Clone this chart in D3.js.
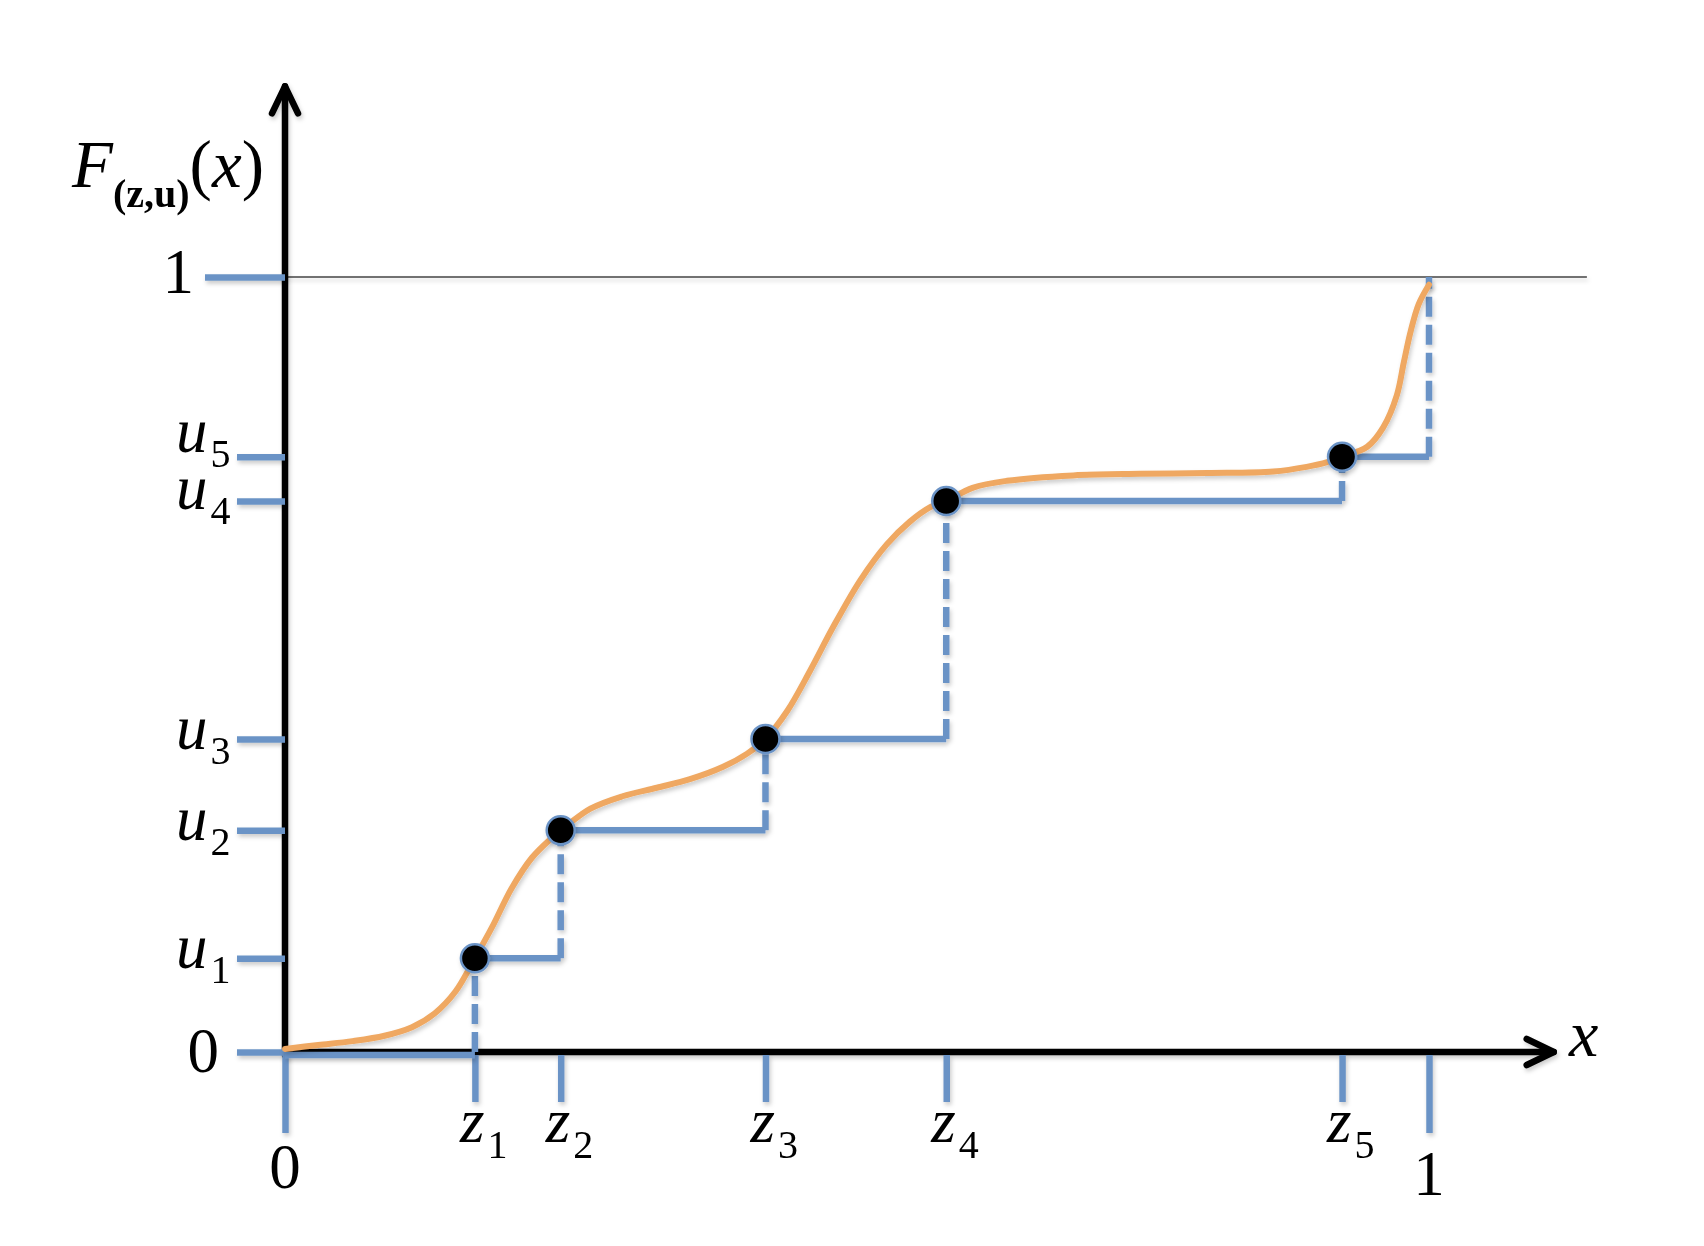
<!DOCTYPE html>
<html>
<head>
<meta charset="utf-8">
<script src="https://cdn.jsdelivr.net/npm/d3@7"></script>
<style>
  html, body { margin: 0; padding: 0; background: #fff; }
  svg { display: block; }
  text { font-family: "Liberation Serif", "Times New Roman", "DejaVu Serif", serif; fill: #000; }
</style>
</head>
<body>
<svg id="chart" width="1704" height="1246"></svg>
<script>
// ---------- data ----------
const zValues = [0.166, 0.241, 0.420, 0.578, 0.924];   // z1..z5 on the x axis
const uValues = [0.121, 0.286, 0.404, 0.711, 0.768];   // u1..u5 on the y axis
const zIndex = ["1", "2", "3", "4", "5"];
const uIndex = ["1", "2", "3", "4", "5"];
const xEndTicks = [0, 1];
const yEndTicks = [0, 1];
// smooth CDF curve F(z,u)(x), sampled along the drawn curve
const curveX = [0, 0.029, 0.059, 0.087, 0.111, 0.131, 0.149, 0.166, 0.181, 0.198, 0.216, 0.233, 0.241,
                0.267, 0.295, 0.325, 0.354, 0.383, 0.404, 0.420, 0.439, 0.459, 0.479, 0.503, 0.526,
                0.546, 0.564, 0.578, 0.601, 0.631, 0.689, 0.747, 0.806, 0.864, 0.893, 0.911, 0.924,
                0.946, 0.960, 0.972, 0.978, 0.984, 0.991, 1.0];
const curveY = [0.004, 0.009, 0.014, 0.021, 0.032, 0.050, 0.078, 0.121, 0.161, 0.211, 0.251, 0.276, 0.286,
                0.314, 0.330, 0.341, 0.352, 0.368, 0.385, 0.404, 0.440, 0.492, 0.548, 0.609, 0.655,
                0.684, 0.703, 0.711, 0.728, 0.737, 0.744, 0.746, 0.747, 0.749, 0.755, 0.761, 0.768,
                0.781, 0.806, 0.848, 0.890, 0.930, 0.965, 0.99];

// ---------- setup ----------
const BLUE = "#6b93c6", ORANGE = "#efa862";
const svg = d3.select("#chart");
const x = d3.scaleLinear().domain([0, 1]).range([285, 1429]);
const y = d3.scaleLinear().domain([0, 1]).range([1052, 277]);

const defs = svg.append("defs");
const f = defs.append("filter").attr("id", "sh").attr("filterUnits", "userSpaceOnUse")
  .attr("x", -2000).attr("y", -2000).attr("width", 6000).attr("height", 6000);
f.append("feDropShadow").attr("dx", 1.5).attr("dy", 3).attr("stdDeviation", 2)
  .attr("flood-color", "#000").attr("flood-opacity", 0.2);

// thin reference line at F = 1
svg.append("line")
  .attr("x1", x(0)).attr("x2", x(1.138)).attr("y1", y(1)).attr("y2", y(1))
  .attr("stroke", "#444").attr("stroke-width", 1.3).attr("filter", "url(#sh)");

// ---------- black axes with open arrowheads ----------
const axes = svg.append("g").attr("filter", "url(#sh)")
  .attr("stroke", "#000").attr("stroke-width", 6.5).attr("fill", "none")
  .attr("stroke-linecap", "round").attr("stroke-linejoin", "round");
axes.append("line").attr("x1", x(0)).attr("x2", x(0)).attr("y1", y(0) + 3).attr("y2", y(1.246));
axes.append("line").attr("x1", x(0)).attr("x2", x(1.109)).attr("y1", y(0)).attr("y2", y(0));
axes.append("path").attr("d", `M${x(0) - 13},${y(1.246) + 27} L${x(0)},${y(1.246)} L${x(0) + 13},${y(1.246) + 27}`);
axes.append("path").attr("d", `M${x(1.109) - 27},${y(0) - 13} L${x(1.109)},${y(0)} L${x(1.109) - 27},${y(0) + 13}`);

// ---------- blue ticks via d3 axes ----------
const yTickVals = [yEndTicks[0], ...uValues, yEndTicks[1]];
const yAxisG = svg.append("g").attr("transform", `translate(${x(0)},0)`).attr("filter", "url(#sh)")
  .call(d3.axisLeft(y).tickValues(yTickVals).tickSize(48).tickFormat(""));
yAxisG.select(".domain").remove();
yAxisG.selectAll(".tick line")
  .attr("stroke", BLUE).attr("stroke-width", 6.5)
  .attr("x2", d => d === 1 ? -80 : -48);

const xTickVals = [xEndTicks[0], ...zValues, xEndTicks[1]];
const xAxisG = svg.append("g").attr("transform", `translate(0,${y(0)})`).attr("filter", "url(#sh)")
  .call(d3.axisBottom(x).tickValues(xTickVals).tickSize(50).tickFormat(""));
xAxisG.select(".domain").remove();
xAxisG.selectAll(".tick line")
  .attr("stroke", BLUE).attr("stroke-width", 6.5)
  .attr("y1", 3)
  .attr("y2", d => (d === 0 || d === 1) ? 81 : 50);

// ---------- step function (solid horizontals, dashed verticals) ----------
const zs = [0, ...zValues, 1];
const us = [0, ...uValues, 1];
const hSegs = d3.range(0, 6).map(i => ({ x1: zs[i], x2: zs[i + 1], yv: us[i] }));
const vSegs = d3.range(1, 7).map(i => ({ xv: zs[i], y1: us[i - 1], y2: us[i] }));

const steps = svg.append("g").attr("filter", "url(#sh)");
steps.selectAll("line.h").data(hSegs).join("line").attr("class", "h")
  .attr("x1", d => x(d.x1)).attr("x2", d => x(d.x2))
  .attr("y1", d => y(d.yv) + (d.yv === 0 ? 3 : 0)).attr("y2", d => y(d.yv) + (d.yv === 0 ? 3 : 0))
  .attr("stroke", BLUE).attr("stroke-width", 6.5);
steps.selectAll("line.v").data(vSegs).join("line").attr("class", "v")
  .attr("x1", d => x(d.xv)).attr("x2", d => x(d.xv))
  .attr("y1", d => y(d.y1)).attr("y2", d => y(d.y2))
  .attr("stroke", BLUE).attr("stroke-width", 6.5).attr("stroke-dasharray", "20 8");

// ---------- orange CDF curve ----------
const curvePts = curveX.map((v, i) => [v, curveY[i]]);
svg.append("path").datum(curvePts)
  .attr("d", d3.line().x(d => x(d[0])).y(d => y(d[1])).curve(d3.curveCatmullRom.alpha(0.5)))
  .attr("fill", "none").attr("stroke", ORANGE).attr("stroke-width", 6)
  .attr("stroke-linecap", "round").attr("filter", "url(#sh)");

// ---------- points (z_i, u_i) ----------
svg.append("g").attr("filter", "url(#sh)")
  .selectAll("circle").data(zValues.map((v, i) => [v, uValues[i]])).join("circle")
  .attr("cx", d => x(d[0])).attr("cy", d => y(d[1])).attr("r", 14)
  .attr("fill", "#000").attr("stroke", BLUE).attr("stroke-width", 2.5);

// ---------- labels ----------
const MAIN = 63, SUB = 40;
// y-axis end labels
svg.append("text").attr("x", 194).attr("y", y(1) + 16).attr("text-anchor", "end")
  .style("font-size", MAIN + "px").text("1");
svg.append("text").attr("x", 219).attr("y", y(0) + 20).attr("text-anchor", "end")
  .style("font-size", MAIN + "px").text("0");
// u labels
uValues.forEach((v, i) => {
  const off = i === 4 ? -5 : (i === 3 ? 8 : 10);
  const t = svg.append("text").attr("x", 176).attr("y", y(v) + off);
  t.append("tspan").style("font-size", MAIN + "px").style("font-style", "italic").text("u");
  t.append("tspan").attr("dx", 3).attr("dy", 15).style("font-size", SUB + "px").text(uIndex[i]);
});
// x-axis end labels
svg.append("text").attr("x", x(0)).attr("y", 1188).attr("text-anchor", "middle")
  .style("font-size", MAIN + "px").text("0");
svg.append("text").attr("x", x(1)).attr("y", 1195).attr("text-anchor", "middle")
  .style("font-size", MAIN + "px").text("1");
// z labels
zValues.forEach((v, i) => {
  const t = svg.append("text").attr("x", x(v) - 15).attr("y", 1142);
  t.append("tspan").style("font-size", MAIN + "px").style("font-style", "italic").text("z");
  t.append("tspan").attr("dx", 3).attr("dy", 16).style("font-size", SUB + "px").text(zIndex[i]);
});
// axis titles
svg.append("text").attr("x", 1569).attr("y", 1056)
  .style("font-size", "66px").style("font-style", "italic").text("x");
const ft = svg.append("text").attr("x", 72).attr("y", 187).style("font-size", "67px");
ft.append("tspan").style("font-style", "italic").text("F");
ft.append("tspan").attr("dy", 20).style("font-size", "40px").style("font-weight", "bold").text("(z,u)");
ft.append("tspan").attr("dy", -20).text("(");
ft.append("tspan").style("font-style", "italic").text("x");
ft.append("tspan").text(")");
</script>
</body>
</html>
